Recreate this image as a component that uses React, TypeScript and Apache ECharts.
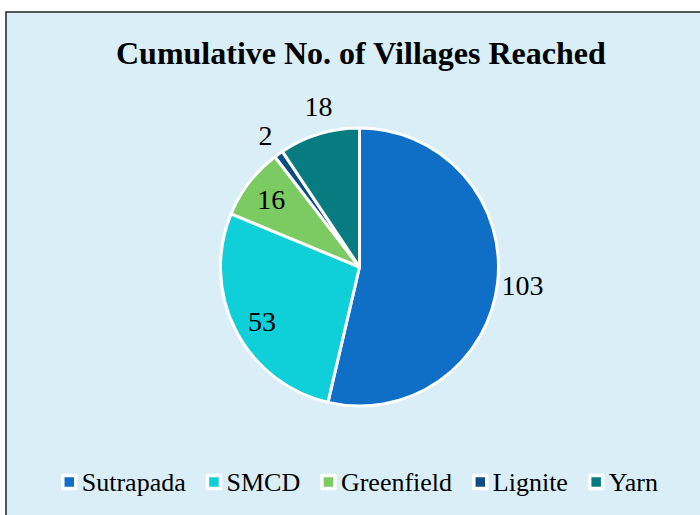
import React, { useEffect, useRef } from "react";
import * as echarts from "echarts";

const titleText = "Cumulative No. of Villages Reached";
const categories = ["Sutrapada", "SMCD", "Greenfield", "Lignite", "Yarn"];
const values = [103, 53, 16, 2, 18];
const colors = ["#0F6FC6", "#0FCFD8", "#7CCA62", "#0F4C81", "#077C80"];
// label placement: radial distance (fraction of radius) and angular nudge (degrees)
const labelRadius = [1.18, 0.805, 0.8, 1.16, 1.19];
const labelNudge = [0, -2.2, 0, 0, 2.5];

const FONT = "Liberation Serif";
const CX = 359.5;
const CY = 267;
const R = 139;

export default function App() {
  const ref = useRef<HTMLDivElement>(null);
  useEffect(() => {
    if (!ref.current) return;
    const chart = echarts.init(ref.current, undefined, { renderer: "svg" });
    const total = values.reduce((a, b) => a + b, 0);
    const starts: number[] = [];
    let acc = 0;
    values.forEach((v) => {
      starts.push(acc);
      acc += v;
    });
    chart.setOption({
      animation: false,
      textStyle: { fontFamily: FONT },
      graphic: [
        {
          type: "rect",
          z: -10,
          silent: true,
          shape: { x: 6, y: 12, width: 710, height: 520 },
          style: { fill: "#DAEEF8", stroke: "#222", lineWidth: 1.5 },
        },
      ],
      title: {
        text: titleText,
        left: 111,
        top: 32,
        textStyle: {
          fontFamily: FONT,
          fontSize: 32,
          fontWeight: "bold",
          color: "#000",
        },
      },
      legend: {
        data: categories,
        left: 56,
        top: 464,
        icon: "rect",
        itemWidth: 13,
        itemHeight: 13,
        itemGap: 20,
        itemStyle: { borderColor: "#fff", borderWidth: 3.5 },
        textStyle: { fontFamily: FONT, fontSize: 26, color: "#000", padding: [0, 0, 0, 1] },
      },
      series: [
        {
          type: "pie",
          center: [CX, CY],
          radius: R,
          startAngle: 90,
          clockwise: true,
          silent: true,
          itemStyle: { borderColor: "#fff", borderWidth: 3 },
          label: {
            show: true,
            position: "inside",
            formatter: "{c}",
            fontFamily: FONT,
            fontSize: 28,
            color: "#000",
          },
          labelLine: { show: false },
          labelLayout: (params: any) => {
            const i = params.dataIndex;
            const mid =
              ((starts[i] + values[i] / 2) / total) * Math.PI * 2 + (labelNudge[i] * Math.PI) / 180;
            const k = labelRadius[i] * R;
            return {
              x: CX + Math.sin(mid) * k,
              y: CY - Math.cos(mid) * k,
              align: "center",
              verticalAlign: "middle",
            };
          },
          data: categories.map((name, i) => ({
            name,
            value: values[i],
            itemStyle: { color: colors[i] },
          })),
        },
      ],
    });
    return () => chart.dispose();
  }, []);
  return (
    <div
      ref={ref}
      style={{ position: "fixed", left: 0, top: 0, width: 700, height: 515, background: "#fff" }}
    />
  );
}
